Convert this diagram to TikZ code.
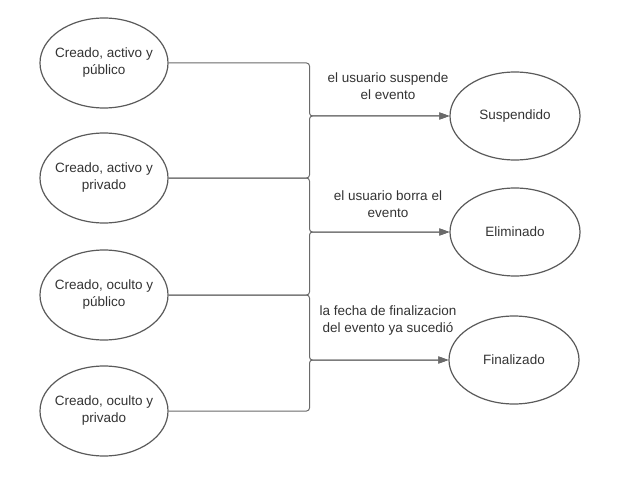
\documentclass[tikz,border=0pt]{standalone}
\usepackage{fontspec}
\setmainfont{Liberation Sans}
\usetikzlibrary{arrows.meta,shapes.geometric}
\definecolor{edgegrey}{HTML}{5A5A5A}
\definecolor{linegrey}{HTML}{6A6A6A}
\definecolor{txtgrey}{HTML}{333333}
\begin{document}
\begin{tikzpicture}[x=1pt,y=-1pt,
  state/.style={ellipse, draw=edgegrey, line width=1.2pt, minimum width=128pt, minimum height=90pt, inner xsep=-12pt, inner ysep=0pt, align=center, text=txtgrey, font=\fontsize{13.5}{17}\selectfont},
  target/.style={state, minimum width=130pt, minimum height=88pt},
  conn/.style={draw=linegrey, line width=1pt, rounded corners=3pt, -{Triangle[length=10pt,width=7pt]}},
  lbl/.style={align=center, text=txtgrey, font=\fontsize{13.5}{17}\selectfont, inner sep=0pt}]
\useasboundingbox (0,0) rectangle (628,481);
\node[state] (e1) at (104,63) {Creado, activo y\\público};
\node[state] (e2) at (104,178) {Creado, activo y\\privado};
\node[state] (e3) at (104,295) {Creado, oculto y\\público};
\node[state] (e4) at (104,411) {Creado, oculto y\\privado};
\node[target] (sus) at (515,116) {Suspendido};
\node[target] (eli) at (515,232) {Eliminado};
\node[target] (fin) at (514,360) {Finalizado};
\coordinate (bus) at (309.5,0);
\draw[conn] (e1.east) -- (e1.east -| bus) |- (sus.west);
\draw[conn] (e2.east) -- (e2.east -| bus) |- (sus.west);
\draw[conn] (e2.east) -- (e2.east -| bus) |- (eli.west);
\draw[conn] (e3.east) -- (e3.east -| bus) |- (eli.west);
\draw[conn] (e3.east) -- (e3.east -| bus) |- (fin.west);
\draw[conn] (e4.east) -- (e4.east -| bus) |- (fin.west);
\node[lbl] (l1) at (388,86) {el usuario suspende\\el evento};
\node[lbl] (l2) at (388,204) {el usuario borra el\\evento};
\node[lbl] (l3) at (388,321) {la fecha de finalizacion\\del evento ya sucedió};
\end{tikzpicture}
\end{document}
